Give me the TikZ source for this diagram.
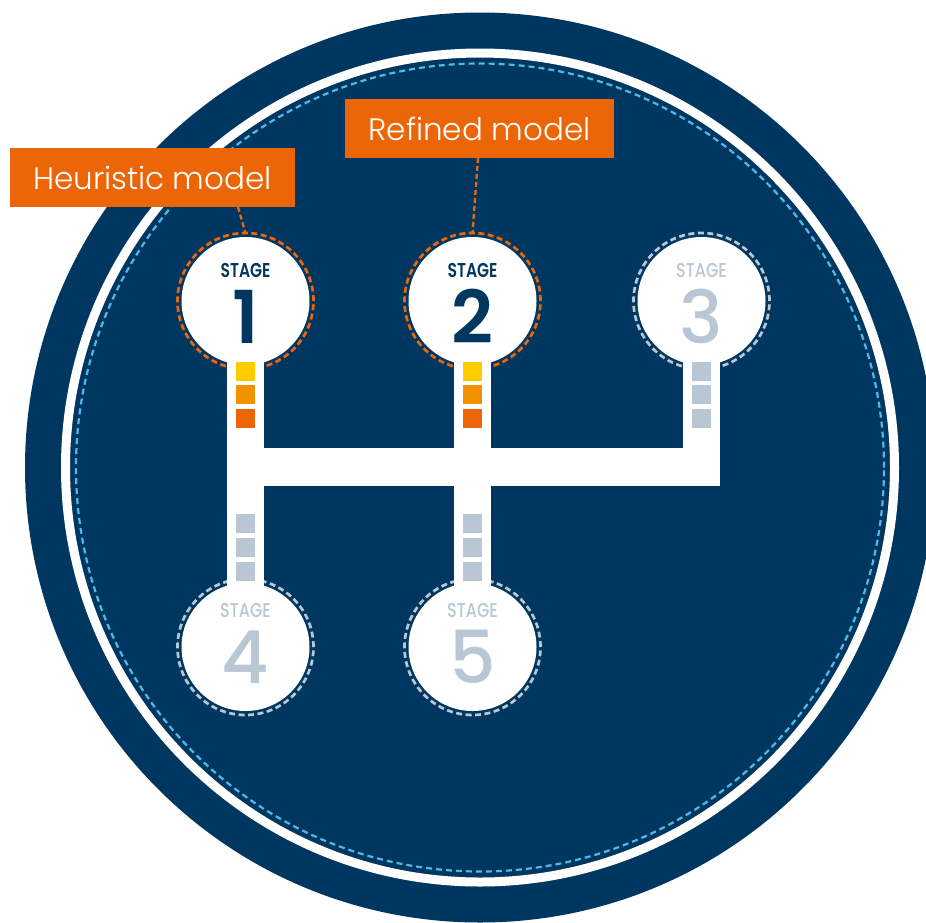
\documentclass[tikz,border=0pt]{standalone}
\usepackage{fontspec}
\setmainfont{Poppins}
\newfontfamily\poplight{Poppins Light}
\newfontfamily\popmed{Poppins Medium}
\newfontfamily\popsemi{Poppins SemiBold}
\usepackage{graphicx}
\definecolor{navy}{RGB}{0,55,96}
\definecolor{skyb}{RGB}{80,185,230}
\definecolor{orng}{RGB}{236,102,8}
\definecolor{orng2}{RGB}{243,146,0}
\definecolor{yel}{RGB}{255,204,0}
\definecolor{gry}{RGB}{184,199,211}
\tikzset{
  ringnode/.style={circle, minimum size=136pt, inner sep=0pt, outer sep=0pt, line width=2.7pt, dash pattern=on 6pt off 3.5pt},
  discnode/.style={circle, minimum size=128pt, inner sep=0pt, outer sep=0pt, fill=white},
  bar/.style={white, line width=37.5pt, line join=miter},
  sq/.style={minimum size=19pt, inner sep=0pt, outer sep=0pt},
  stagelbl/.style={anchor=base, inner sep=0pt, text=gry, font=\popmed\fontsize{20}{20}\selectfont},
  stageact/.style={anchor=base, inner sep=0pt, text=navy, font=\popsemi\fontsize{20}{20}\selectfont},
  numlbl/.style={anchor=base, inner sep=0pt, text=gry, font=\popmed\fontsize{73}{73}\selectfont},
  numact/.style={anchor=base, inner sep=0pt, text=navy, font=\popsemi\fontsize{73}{73}\selectfont},
  labbox/.style={fill=orng, text=white, inner sep=0pt, font=\poplight\fontsize{31}{31}\selectfont},
  conn/.style={orng, line width=2.3pt, dash pattern=on 5pt off 3pt}
}
\begin{document}
\begin{tikzpicture}[x=1pt,y=-1pt]
\useasboundingbox (0,0) rectangle (926,922);
\clip (0,0) rectangle (926,922);
% background discs and rings
\fill[navy] (480,467.5) circle[radius=455pt];
\draw[white, line width=9pt] (480,467.5) circle[radius=414.5pt];
\draw[skyb, line width=2.2pt, dash pattern=on 6pt off 4pt] (480,467.5) circle[radius=404pt];
% dashed rings
\node[ringnode, draw=orng] (r1) at (245.5,301) {};
\node[ringnode, draw=orng] (r2) at (472.5,301) {};
\node[ringnode, draw=gry] (r3) at (701.5,301) {};
\node[ringnode, draw=gry] (r4) at (245.5,647) {};
\node[ringnode, draw=gry] (r5) at (472.5,647) {};
% white discs
\node[discnode] (s1) at (245.5,301) {};
\node[discnode] (s2) at (472.5,301) {};
\node[discnode] (s3) at (701.5,301) {};
\node[discnode] (s4) at (245.5,647) {};
\node[discnode] (s5) at (472.5,647) {};
% gate bars
\coordinate (j1) at (245.5,467);
\coordinate (j3) at (701.5,467);
\draw[bar] (s1.center) -- (s4.center);
\draw[bar] (s2.center) -- (s5.center);
\draw[bar] (s3.center) -- (j3) -- (j1);
% squares
\node[sq, fill=yel]   (q1a) at (245.5,371.5) {};
\node[sq, fill=orng2] (q1b) at (245.5,394.5) {};
\node[sq, fill=orng]  (q1c) at (245.5,418.5) {};
\node[sq, fill=yel]   (q2a) at (472.5,371.5) {};
\node[sq, fill=orng2] (q2b) at (472.5,394.5) {};
\node[sq, fill=orng]  (q2c) at (472.5,418.5) {};
\node[sq, fill=gry] (q3a) at (701.5,371.5) {};
\node[sq, fill=gry] (q3b) at (701.5,394.5) {};
\node[sq, fill=gry] (q3c) at (701.5,418.5) {};
\node[sq, fill=gry] (q4a) at (245.5,523.5) {};
\node[sq, fill=gry] (q4b) at (245.5,547.5) {};
\node[sq, fill=gry] (q4c) at (245.5,571.5) {};
\node[sq, fill=gry] (q5a) at (472.5,523.5) {};
\node[sq, fill=gry] (q5b) at (472.5,547.5) {};
\node[sq, fill=gry] (q5c) at (472.5,571.5) {};
% texts
\node[stageact] (t1) at (245.5,277) {\scalebox{0.78}[1]{STAGE}};
\node[stageact] (t2) at (472.5,277) {\scalebox{0.78}[1]{STAGE}};
\node[stagelbl] (t3) at (701.5,277) {\scalebox{0.8}[1]{STAGE}};
\node[stagelbl] (t4) at (245.5,617) {\scalebox{0.8}[1]{STAGE}};
\node[stagelbl] (t5) at (472.5,617) {\scalebox{0.8}[1]{STAGE}};
\node[numact] (n1) at (245.5,343) {1};
\node[numact] (n2) at (472.5,343) {2};
\node[numlbl] (n3) at (701.5,343) {3};
\node[numlbl] (n4) at (245.5,683) {4};
\node[numlbl] (n5) at (472.5,683) {5};
% labels
\node[labbox, minimum width=285pt, minimum height=59pt] (heur) at (152.5,177.5) {Heuristic model};
\node[labbox, minimum width=269pt, minimum height=59pt] (refi) at (479.5,128.5) {Refined model};
\coordinate (hc) at (238,207);
\coordinate (rc) at (478,158);
\draw[conn] (hc) -- (r1.north);
\draw[conn] (rc) -- (r2.north);
\end{tikzpicture}
\end{document}
